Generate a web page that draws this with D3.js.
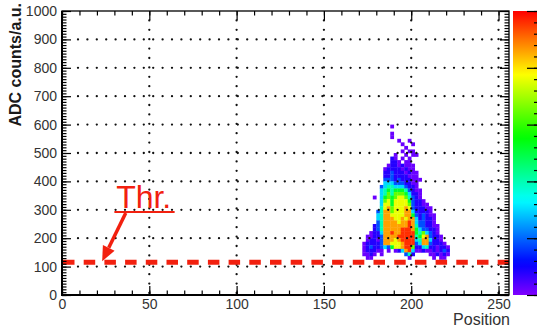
<!DOCTYPE html>
<html>
<head>
<meta charset="utf-8">
<script src="https://cdn.jsdelivr.net/npm/d3@7"></script>
<style>
  html, body { margin: 0; padding: 0; background: #fff; }
  svg { display: block; font-family: "Liberation Sans", Arial, Helvetica, sans-serif; }
</style>
</head>
<body>
<svg id="chart" width="537" height="327"></svg>
<script>
// ---- axis ranges and labels ----
const xDomain = [0, 256];
const yDomain = [0, 1000];
const zDomain = [0, 50];
const xTickValues = [0, 50, 100, 150, 200, 250];
const yTickValues = [0, 100, 200, 300, 400, 500, 600, 700, 800, 900, 1000];
const gridX = [50, 100, 150, 200, 250];
const gridY = [100, 200, 300, 400, 500, 600, 700, 800, 900];
const xTitle = "Position";
const yTitle = "ADC counts/a.u.";

// ---- threshold ----
const thresholdValue = 115;
const thresholdLabel = "Thr.";

// ---- 2D histogram of the signal cluster ----
// bins: 2 units in position, 12.5 counts in ADC; first string is the top row
const binX0 = 172, binDX = 2;
const binY0 = 125, binDY = 12.5;
// '.' = empty bin, a digit picks the bin content from levelCounts
const levelCounts = [1, 4, 9, 15, 20, 26, 32, 38, 43, 48];
const clusterRows = [
  "..........................",
  "........0.................",
  "..........................",
  "........0.................",
  "........0.................",
  "..........0..0............",
  "...........0..0...........",
  "............0.............",
  "...........0.00...........",
  ".........0..0.00..........",
  "........10.0.0............",
  "........110.00............",
  ".......01101000...........",
  "......011110100...........",
  "......1121110100..........",
  "......1121111000..........",
  "......22212111000.........",
  "......3332221100..........",
  ".....23443332110..........",
  ".....345455542100.........",
  ".....346466653110.........",
  "...0.356567764210.........",
  ".....3675777752110........",
  ".....37757777621100.......",
  ".....478677787211100......",
  "....2488677788311110......",
  "....34887777885212100.....",
  "....34888778788312110.....",
  "....24888878898322110.....",
  "...1248888888984221100....",
  "...1248888899985322110....",
  "..01138898899995463210....",
  ".0011288889999945782110...",
  ".0110288878999934883110...",
  "011112887778999238821110..",
  "0121123257789961134110110.",
  "011100.0.0138930010010121.",
  "0010.0......241....001010.",
  ".00..........0......0.00.."
];

// ---- layout ----
const frame = { left: 62, right: 509, top: 11, bottom: 295 };
const bar = { left: 513, right: 541 };
const red = "#f2200f";

const svg = d3.select("#chart");
const x = d3.scaleLinear().domain(xDomain).range([frame.left, frame.right]);
const y = d3.scaleLinear().domain(yDomain).range([frame.bottom, frame.top]);
const zScale = d3.scaleLinear().domain(zDomain).range([frame.bottom, frame.top]);
// rainbow palette: violet for low content, red for high content
const colour = d3.scaleSequential(t => d3.hsl(270 * (1 - t), 1, 0.5).formatHex()).domain(zDomain);

// ---- bins ----
const cells = [];
clusterRows.forEach((row, r) => {
  const j = clusterRows.length - 1 - r;
  Array.from(row).forEach((ch, k) => {
    if (ch === ".") return;
    cells.push({ pos: binX0 + k * binDX, adc: binY0 + j * binDY, z: levelCounts[+ch] });
  });
});

svg.append("g").selectAll("rect").data(cells).join("rect")
  .attr("x", d => x(d.pos))
  .attr("y", d => y(d.adc + binDY))
  .attr("width", d => x(d.pos + binDX) - x(d.pos) + 0.3)
  .attr("height", d => y(d.adc) - y(d.adc + binDY) + 0.3)
  .attr("fill", d => colour(d.z));

// ---- dotted grid ----
const grid = svg.append("g")
  .attr("stroke", "#111").attr("stroke-width", 2.3)
  .attr("stroke-linecap", "round").attr("stroke-dasharray", "0 9.4");
grid.selectAll("line.gx").data(gridX).join("line").attr("class", "gx")
  .attr("x1", d => x(d)).attr("x2", d => x(d))
  .attr("y1", frame.bottom - 2).attr("y2", frame.top);
grid.selectAll("line.gy").data(gridY).join("line").attr("class", "gy")
  .attr("x1", frame.left + 16).attr("x2", frame.right)
  .attr("y1", d => y(d)).attr("y2", d => y(d));

// ---- threshold line ----
svg.append("line")
  .attr("x1", x(xDomain[0]) + 1).attr("x2", x(xDomain[1]))
  .attr("y1", y(thresholdValue)).attr("y2", y(thresholdValue))
  .attr("stroke", red).attr("stroke-width", 5)
  .attr("stroke-dasharray", "11.5 9.2");

// ---- frame and axes ----
const xMinor = d3.range(0, 257, 10);
const yMinor = d3.range(0, 1001, 10);
const zMinor = d3.range(0, 51, 2);

function styleAxis(g) {
  g.selectAll(".tick line").attr("stroke", "#000").attr("stroke-width", 1.2);
  g.selectAll(".domain").remove();
  g.selectAll(".tick text").attr("fill", "#333").attr("font-size", 14)
    .attr("font-family", "Liberation Sans, Arial, sans-serif");
}

// bottom
svg.append("g").attr("transform", `translate(0,${frame.bottom})`)
  .call(d3.axisBottom(x).tickValues(xMinor).tickSizeInner(-4.5).tickSizeOuter(0).tickFormat(""))
  .call(styleAxis);
svg.append("g").attr("transform", `translate(0,${frame.bottom})`)
  .call(d3.axisBottom(x).tickValues(xTickValues).tickSizeInner(-9).tickSizeOuter(0).tickPadding(4).tickFormat(d3.format("d")))
  .call(styleAxis);
// top
svg.append("g").attr("transform", `translate(0,${frame.top})`)
  .call(d3.axisTop(x).tickValues(xMinor).tickSizeInner(-4.5).tickSizeOuter(0).tickFormat(""))
  .call(styleAxis);
svg.append("g").attr("transform", `translate(0,${frame.top})`)
  .call(d3.axisTop(x).tickValues(xTickValues).tickSizeInner(-9).tickSizeOuter(0).tickFormat(""))
  .call(styleAxis);
// left
svg.append("g").attr("transform", `translate(${frame.left},0)`)
  .call(d3.axisLeft(y).tickValues(yMinor).tickSizeInner(-4.5).tickSizeOuter(0).tickFormat(""))
  .call(styleAxis);
svg.append("g").attr("transform", `translate(${frame.left},0)`)
  .call(d3.axisLeft(y).tickValues(yTickValues).tickSizeInner(-9).tickSizeOuter(0).tickPadding(5).tickFormat(d3.format("d")))
  .call(styleAxis);
// right
svg.append("g").attr("transform", `translate(${frame.right},0)`)
  .call(d3.axisRight(y).tickValues(yMinor).tickSizeInner(-4.5).tickSizeOuter(0).tickFormat(""))
  .call(styleAxis);
svg.append("g").attr("transform", `translate(${frame.right},0)`)
  .call(d3.axisRight(y).tickValues(yTickValues).tickSizeInner(-9).tickSizeOuter(0).tickFormat(""))
  .call(styleAxis);

// frame box
svg.append("rect")
  .attr("x", frame.left).attr("y", frame.top)
  .attr("width", frame.right - frame.left).attr("height", frame.bottom - frame.top)
  .attr("fill", "none").attr("stroke", "#000").attr("stroke-width", 1.3);
svg.append("path")
  .attr("d", `M${frame.left},${frame.top}V${frame.bottom}H${frame.right}`)
  .attr("fill", "none").attr("stroke", "#000").attr("stroke-width", 2);

// ---- axis titles ----
svg.append("text")
  .attr("transform", `translate(21,3) rotate(-90)`)
  .attr("text-anchor", "end").attr("font-weight", "bold").attr("font-size", 16)
  .attr("fill", "#1a1a1a").text(yTitle);
svg.append("text")
  .attr("x", 510).attr("y", 325).attr("text-anchor", "end")
  .attr("font-size", 16).attr("fill", "#333").text(xTitle);

// ---- colour bar ----
const defs = svg.append("defs");
const grad = defs.append("linearGradient").attr("id", "zgrad")
  .attr("x1", 0).attr("y1", 0).attr("x2", 0).attr("y2", 1);
d3.range(0, 41).forEach(i => {
  const f = i / 40;
  grad.append("stop").attr("offset", f)
    .attr("stop-color", colour(zDomain[1] - f * (zDomain[1] - zDomain[0])));
});
svg.append("rect")
  .attr("x", bar.left).attr("y", frame.top)
  .attr("width", bar.right - bar.left).attr("height", frame.bottom - frame.top)
  .attr("fill", "url(#zgrad)");
svg.append("g").attr("transform", `translate(${bar.right},0)`)
  .call(d3.axisRight(zScale).tickValues(zMinor).tickSizeInner(-7).tickSizeOuter(0).tickFormat(""))
  .call(styleAxis);
svg.append("g").attr("transform", `translate(${bar.right},0)`)
  .call(d3.axisRight(zScale).ticks(5).tickSizeInner(-14).tickSizeOuter(0).tickFormat(""))
  .call(styleAxis);

// ---- threshold annotation ----
const label = svg.append("text")
  .attr("x", x(31)).attr("y", 208)
  .attr("font-size", 32).attr("fill", red).text(thresholdLabel);
svg.append("line")
  .attr("x1", x(30)).attr("x2", x(64.5))
  .attr("y1", 212).attr("y2", 212)
  .attr("stroke", red).attr("stroke-width", 2);

// arrow from the label down to the threshold line
const tail = [x(36.5), 213];
const tip = [x(23), y(thresholdValue) - 1];
const ang = Math.atan2(tip[1] - tail[1], tip[0] - tail[0]);
const headLen = 15, headHalf = 6.5;
const base = [tip[0] - headLen * Math.cos(ang), tip[1] - headLen * Math.sin(ang)];
svg.append("line")
  .attr("x1", tail[0]).attr("y1", tail[1])
  .attr("x2", base[0]).attr("y2", base[1])
  .attr("stroke", red).attr("stroke-width", 3.5);
svg.append("path")
  .attr("d", d3.line()([
    tip,
    [base[0] + headHalf * Math.sin(ang), base[1] - headHalf * Math.cos(ang)],
    [base[0] - headHalf * Math.sin(ang), base[1] + headHalf * Math.cos(ang)]
  ]) + "Z")
  .attr("fill", red);
</script>
</body>
</html>
